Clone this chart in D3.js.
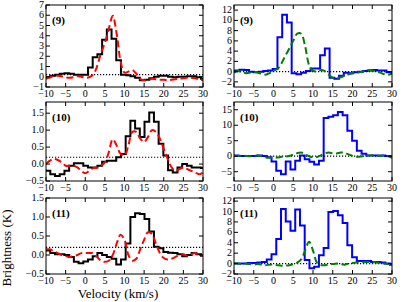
<!DOCTYPE html>
<html>
<head>
<meta charset="utf-8">
<script src="https://cdn.jsdelivr.net/npm/d3@7"></script>
<style>
  body { margin: 0; background: #fff; }
  text { font-family: "Liberation Serif", "DejaVu Serif", serif; }
</style>
</head>
<body>
<script>
// channel centres (km/s) of the observed spectra
const velA = [-10.7,-9.5,-8.3,-7.1,-5.9,-4.7,-3.5,-2.3,-1.1,0.1,1.3,2.5,3.7,4.9,6.1,7.3,8.5,9.7,10.9,12.1,13.3,14.5,15.7,16.9,18.1,19.3,20.5,21.7,22.9,24.1,25.3,26.5,27.7,28.9,30.1];
const velB = [-10.4,-9.2,-8.0,-6.8,-5.6,-4.4,-3.2,-2.0,-0.8,0.4,1.6,2.8,4.0,5.2,6.4,7.6,8.8,10.0,11.2,12.4,13.6,14.8,16.0,17.2,18.4,19.6,20.8,22.0,23.2,24.4,25.6,26.8,28.0,29.2,30.4];
// velocities where the model curves were read
const velModel = [-10,-9,-8,-7,-6,-5,-4,-3,-2,-1,0,1,2,3,4,5,6,7,8,9,10,11,12,13,14,15,16,17,18,19,20,21,22,23,24,25,26,27,28,29,30];

// observed spectra (K)
const obs9L  = [-0.1,-0.05,0.1,0.2,0.3,0.35,0.3,0.2,0.2,0.2,0.9,1.9,2.2,3.6,4.6,3.7,1.6,0.2,0.15,0.05,-0.1,-0.35,-0.3,-0.15,0.0,0.1,0.1,0.0,-0.05,0.0,0.0,0.05,0.05,-0.05,-0.2];
const obs9R  = [0.2,0.2,0.35,0.3,0.0,-0.1,0.0,0.1,0.2,0.5,6.7,11.1,9.6,-0.3,-0.5,-0.2,0.1,0.6,0.6,3.2,4.5,-1.2,-1.4,-0.8,-0.2,-0.3,-0.1,0.0,0.1,0.2,0.3,0.2,0.2,-0.1,-0.3];
const obs10L = [-0.18,-0.2,-0.3,-0.35,-0.3,-0.2,-0.05,0.02,0.02,-0.05,-0.1,-0.1,-0.05,0.07,0.1,0.1,0.2,0.3,0.82,1.28,1.05,0.8,1.25,1.52,1.25,0.6,0.25,-0.18,-0.25,-0.1,0.0,-0.05,-0.1,-0.1,-0.12];
const obs10R = [0.3,0.2,0.1,0.1,0.1,0.1,0.2,0.1,-0.3,-1.7,-4.7,-5.8,-1.7,-4.3,-1.5,0.2,-1.0,-1.8,-2.7,-1.5,12.3,12.7,13.2,14.3,13.2,8.2,5.0,1.8,0.8,0.2,0.2,0.2,0.2,0.1,0.0];
const obs11L = [0.12,0.12,0.05,0.02,0.02,0.0,-0.05,-0.18,-0.22,-0.17,-0.12,-0.03,0.05,0.0,-0.05,-0.1,-0.25,-0.12,0.3,1.0,1.1,1.08,0.95,0.62,0.22,0.18,0.08,0.06,0.05,0.02,-0.03,0.0,0.05,0.02,-0.02];
const obs11R = [0.0,0.0,0.0,0.0,0.1,0.1,0.2,0.3,0.8,1.8,4.7,10.5,8.1,6.3,10.4,7.3,0.7,-0.9,-0.6,1.6,3.0,9.9,10.1,9.3,7.8,3.5,1.2,0.5,0.5,0.5,0.3,0.3,0.2,0.0,-0.2];

// model curves (K)
const mod9L  = [-0.2,-0.05,0.05,0.1,0.05,-0.05,-0.1,-0.05,0.05,0.0,-0.1,-0.05,0.2,1.0,2.3,3.3,4.7,5.95,4.2,1.5,0.4,0.5,0.65,0.3,-0.2,-0.35,-0.3,-0.2,-0.25,-0.3,-0.3,-0.35,-0.3,-0.25,-0.2,-0.15,-0.1,-0.1,-0.15,-0.25,-0.35];
const mod9R  = [-0.2,0.1,-0.1,-0.3,-0.2,0.0,-0.2,-0.4,-0.6,-0.3,0.2,0.5,1.6,3.1,4.5,6.0,7.4,7.4,5.0,1.3,0.2,0.0,0.3,0.1,-0.6,-1.2,-1.3,-1.1,-0.8,-0.5,-0.3,-0.2,-0.1,0.1,0.3,0.2,0.0,-0.2,-0.5,-0.6,-0.4];
const mod10L = [0.0,0.1,0.15,0.12,0.05,-0.05,-0.05,-0.05,-0.1,-0.2,-0.27,-0.2,-0.12,-0.1,-0.05,0.05,0.35,0.73,0.55,0.3,0.25,0.55,0.95,0.95,0.75,0.65,0.8,1.0,0.95,0.75,0.45,0.15,-0.1,-0.2,-0.15,-0.1,-0.15,-0.2,-0.25,-0.3,-0.25];
const mod10R = [0.0,0.1,0.2,0.1,0.0,0.1,0.2,0.0,-0.3,-0.5,-0.5,-0.4,-0.2,-0.1,0.1,0.5,1.0,1.2,0.7,0.0,-0.4,-0.3,0.3,0.9,1.2,0.9,0.9,1.2,1.1,0.6,0.1,-0.2,-0.1,0.1,0.2,0.3,0.2,0.1,0.2,0.0,-0.5];
const mod11L = [0.15,0.15,0.1,0.05,0.0,-0.03,-0.05,-0.03,0.0,0.05,0.05,0.05,0.05,-0.05,-0.15,-0.18,-0.15,0.0,0.3,0.53,0.4,0.0,-0.15,-0.1,0.15,0.4,0.6,0.55,0.3,0.05,-0.08,-0.12,-0.1,-0.05,0.0,0.02,-0.02,0.02,0.05,0.0,-0.02];
const mod11R = [0.1,0.0,-0.1,0.0,-0.1,-0.2,-0.1,-0.2,-0.3,-0.2,-0.2,-0.3,-0.4,-0.4,-0.3,-0.1,0.2,0.8,2.5,4.2,2.5,0.2,-0.3,-0.3,-0.2,-0.1,0.0,-0.1,-0.2,0.0,0.1,0.2,0.2,0.3,0.3,0.3,0.2,0.1,0.0,-0.1,-0.2];

const labels = ['(9)', '(9)', '(10)', '(10)', '(11)', '(11)'];
const xTicks = [-10, -5, 0, 5, 10, 15, 20, 25, 30];

const W = 403, H = 302;
const colL = [46, 234], colR = [203, 392];
const rowT = [5, 102, 198], rowB = [87, 181, 274];

const panels = [
  { row: 0, col: 0, vel: velA, obs: obs9L,  mod: mod9L,  yDom: [-1, 7],       yTicks: d3.range(-1, 8, 1),        fmt: '.0f', base: 0.2, obsColor: '#000', modColor: '#ff0000' },
  { row: 0, col: 1, vel: velB, obs: obs9R,  mod: mod9R,  yDom: [-3, 13],      yTicks: d3.range(-2, 13, 2),       fmt: '.0f', base: 0,   obsColor: '#0000ff', modColor: '#008000' },
  { row: 1, col: 0, vel: velA, obs: obs10L, mod: mod10L, yDom: [-0.5, 1.83],  yTicks: [-0.5, 0, 0.5, 1, 1.5],    fmt: '.1f', base: 0.2, obsColor: '#000', modColor: '#ff0000' },
  { row: 1, col: 1, vel: velA, obs: obs10R, mod: mod10R, yDom: [-8, 17.5],    yTicks: [-5, 0, 5, 10, 15],        fmt: '.0f', base: 0,   obsColor: '#0000ff', modColor: '#008000' },
  { row: 2, col: 0, vel: velA, obs: obs11L, mod: mod11L, yDom: [-0.5, 1.5],   yTicks: [-0.5, 0, 0.5, 1, 1.5],    fmt: '.1f', base: 0.2, obsColor: '#000', modColor: '#ff0000' },
  { row: 2, col: 1, vel: velA, obs: obs11R, mod: mod11R, yDom: [-2, 12.6],    yTicks: d3.range(-2, 13, 2),       fmt: '.0f', base: 0,   obsColor: '#0000ff', modColor: '#008000' }
];

const svg = d3.select('body').append('svg')
  .attr('width', W)
  .attr('height', H);

const minus = s => s.replace('-', '\u2212');

panels.forEach((p, i) => {
  const x0 = colL[p.col], x1 = colR[p.col];
  const y0 = rowT[p.row], y1 = rowB[p.row];
  const x = d3.scaleLinear().domain([-10, 30]).range([x0, x1]);
  const y = d3.scaleLinear().domain(p.yDom).range([y1, y0]);
  const g = svg.append('g');

  g.append('clipPath').attr('id', 'clip' + i)
    .append('rect')
    .attr('x', x0).attr('y', y0)
    .attr('width', x1 - x0).attr('height', y1 - y0);

  const plot = g.append('g').attr('clip-path', `url(#clip${i})`);

  // baseline
  plot.append('line')
    .attr('x1', x0).attr('x2', x1)
    .attr('y1', y(p.base)).attr('y2', y(p.base))
    .attr('stroke', '#000')
    .attr('stroke-width', 1.2)
    .attr('stroke-dasharray', '1.2,1.8');

  // observed spectrum
  plot.append('path')
    .datum(p.vel.map((v, k) => [v, p.obs[k]]))
    .attr('fill', 'none')
    .attr('stroke', p.obsColor)
    .attr('stroke-width', 2)
    .attr('d', d3.line().x(d => x(d[0])).y(d => y(d[1])).curve(d3.curveStep));

  // model
  plot.append('path')
    .datum(velModel.map((v, k) => [v, p.mod[k]]))
    .attr('fill', 'none')
    .attr('stroke', p.modColor)
    .attr('stroke-width', 2)
    .attr('stroke-dasharray', '7,3.5')
    .attr('d', d3.line().x(d => x(d[0])).y(d => y(d[1])).curve(d3.curveCatmullRom.alpha(0.5)));

  // frame
  g.append('rect')
    .attr('x', x0).attr('y', y0)
    .attr('width', x1 - x0).attr('height', y1 - y0)
    .attr('fill', 'none')
    .attr('stroke', '#000')
    .attr('stroke-width', 1);

  // inward ticks on all sides
  const tl = 4;
  xTicks.forEach(t => {
    g.append('line').attr('x1', x(t)).attr('x2', x(t)).attr('y1', y1).attr('y2', y1 - tl).attr('stroke', '#000');
    g.append('line').attr('x1', x(t)).attr('x2', x(t)).attr('y1', y0).attr('y2', y0 + tl).attr('stroke', '#000');
    g.append('text')
      .attr('x', x(t)).attr('y', y1 + 10)
      .attr('text-anchor', 'middle')
      .attr('font-size', 10)
      .text(minus(String(t)));
  });
  p.yTicks.forEach(t => {
    g.append('line').attr('x1', x0).attr('x2', x0 + tl).attr('y1', y(t)).attr('y2', y(t)).attr('stroke', '#000');
    g.append('line').attr('x1', x1).attr('x2', x1 - tl).attr('y1', y(t)).attr('y2', y(t)).attr('stroke', '#000');
    g.append('text')
      .attr('x', x0 - 2).attr('y', y(t) + 3)
      .attr('text-anchor', 'end')
      .attr('font-size', 10)
      .text(minus(d3.format(p.fmt)(t)));
  });

  g.append('text')
    .attr('x', x0 + 6).attr('y', y0 + 19)
    .attr('font-size', 11)
    .attr('font-weight', 'bold')
    .text(labels[i]);
});

svg.append('text')
  .attr('transform', 'translate(11,248) rotate(-90)')
  .attr('text-anchor', 'middle')
  .attr('font-size', 13)
  .text('Brightness (K)');

svg.append('text')
  .attr('x', 118).attr('y', 298)
  .attr('text-anchor', 'middle')
  .attr('font-size', 13)
  .text('Velocity (km/s)');
</script>
</body>
</html>
